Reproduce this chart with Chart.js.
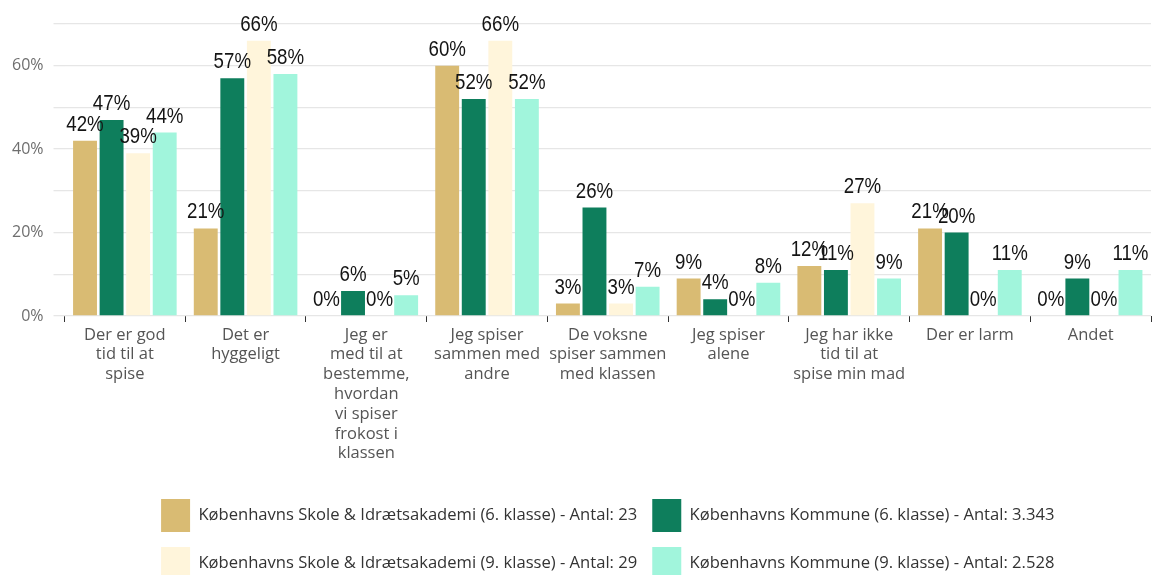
<!DOCTYPE html>
<html>
<head>
<meta charset="utf-8">
<script src="https://cdn.jsdelivr.net/npm/chart.js@4.4.1/dist/chart.umd.min.js"></script>
<style>
  html, body { margin: 0; padding: 0; background: #ffffff; overflow: hidden; }
  #wrap { position: relative; width: 1157px; height: 590px; }
</style>
</head>
<body>
<div id="wrap"><canvas id="chart"></canvas></div>
<script>
// Answer categories (each entry is the wrapped label, one string per line)
const categories = [
  ["Der er god", "tid til at", "spise"],
  ["Det er", "hyggeligt"],
  ["Jeg er", "med til at", "bestemme,", "hvordan", "vi spiser", "frokost i", "klassen"],
  ["Jeg spiser", "sammen med", "andre"],
  ["De voksne", "spiser sammen", "med klassen"],
  ["Jeg spiser", "alene"],
  ["Jeg har ikke", "tid til at", "spise min mad"],
  ["Der er larm"],
  ["Andet"]
];

// Series names
const seriesNames = [
  "Københavns Skole & Idrætsakademi (6. klasse) - Antal: 23",
  "Københavns Kommune (6. klasse) - Antal: 3.343",
  "Københavns Skole & Idrætsakademi (9. klasse) - Antal: 29",
  "Københavns Kommune (9. klasse) - Antal: 2.528"
];

// Percent answering each option
const skole6 = [42, 21, 0, 60, 3, 9, 12, 21, 0];
const kommune6 = [47, 57, 6, 52, 26, 4, 11, 20, 9];
const skole9 = [39, 66, 0, 66, 3, 0, 27, 0, 0];
const kommune9 = [44, 58, 5, 52, 7, 8, 9, 11, 11];

// Labelled y ticks (percent); grid lines every 10
const yTickLabels = [0, 20, 40, 60];
const yMax = 70;

const colors = ["#D9BB73", "#0E7E5C", "#FFF5DB", "#A1F5DC"];
const seriesValues = [skole6, kommune6, skole9, kommune9];

// Draws the value above each bar in a slightly condensed face
const valueLabels = {
  id: "valueLabels",
  afterDatasetsDraw(chart) {
    const ctx = chart.ctx;
    chart.data.datasets.forEach((ds, di) => {
      const meta = chart.getDatasetMeta(di);
      meta.data.forEach((bar, i) => {
        ctx.save();
        ctx.font = '22px "Liberation Sans", Arial, sans-serif';
        ctx.fillStyle = "#141414";
        ctx.textAlign = "center";
        ctx.textBaseline = "bottom";
        ctx.translate(bar.x, bar.y - 5);
        ctx.scale(0.85, 1);
        ctx.fillText(ds.data[i] + "%", 0, 0);
        ctx.restore();
      });
    });
  }
};

const uiFont = '"Open Sans", "Noto Sans", sans-serif';

new Chart(document.getElementById("chart"), {
  type: "bar",
  data: {
    labels: categories,
    datasets: seriesValues.map((vals, i) => ({
      label: seriesNames[i],
      data: vals,
      backgroundColor: colors[i],
      borderWidth: 0,
      categoryPercentage: 0.88,
      barPercentage: 0.9
    }))
  },
  options: {
    responsive: true,
    maintainAspectRatio: false,
    animation: false,
    layout: { padding: { top: 24, right: 6, left: 0, bottom: 0 } },
    plugins: {
      tooltip: { enabled: false },
      legend: {
        position: "bottom",
        fullSize: false,
        labels: {
          boxWidth: 29,
          boxHeight: 33,
          padding: 15,
          color: "#333333",
          font: { family: uiFont, size: 16.6 }
        }
      }
    },
    scales: {
      x: {
        grid: { drawOnChartArea: false, drawTicks: true, tickLength: 6, tickColor: "#333333" },
        border: { display: false },
        ticks: {
          autoSkip: false,
          maxRotation: 0,
          padding: 3,
          color: "#555555",
          font: { family: uiFont, size: 16.5, lineHeight: 1.2 }
        },
        afterFit(scale) { scale.height = 168; }
      },
      y: {
        min: 0,
        max: yMax,
        grid: { color: "#e6e6e6", tickLength: 11, lineWidth: 1.3 },
        border: { display: false },
        ticks: {
          stepSize: 10,
          padding: 10,
          color: "#6e6e6e",
          font: { family: uiFont, size: 16 },
          callback: (v) => (yTickLabels.includes(v) ? v + "%" : "")
        },
        afterFit(scale) { scale.width = 64.5; }
      }
    }
  },
  plugins: [valueLabels]
});
</script>
</body>
</html>
